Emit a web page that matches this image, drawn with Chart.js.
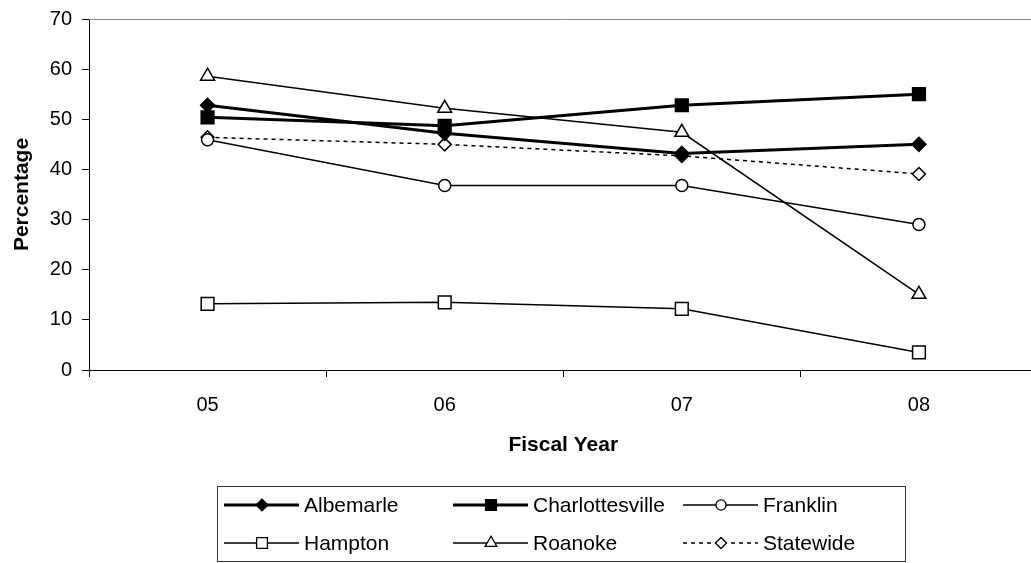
<!DOCTYPE html>
<html>
<head>
<meta charset="utf-8">
<script src="https://cdn.jsdelivr.net/npm/chart.js@4.4.1/dist/chart.umd.min.js"></script>
<style>
  html, body { margin: 0; padding: 0; background: #fff; overflow: hidden; }
  #wrap { width: 1048px; height: 563px; }
</style>
</head>
<body>
<div id="wrap"><canvas id="chart" width="1048" height="563"></canvas></div>
<script>
/**
 * Data
 */
const fiscalYears = ['05', '06', '07', '08'];
const albemarle = [52.8, 47.2, 43.2, 45.0];
const charlottesville = [50.4, 48.7, 52.8, 55.0];
const franklin = [45.9, 36.8, 36.8, 29.0];
const hampton = [13.2, 13.5, 12.2, 3.5];
const roanoke = [58.6, 52.2, 47.4, 15.1];
const statewide = [46.4, 45.0, 42.7, 39.1];
const yTicks = [0, 10, 20, 30, 40, 50, 60, 70];

const FONT = "'Liberation Sans', Arial, sans-serif";

/**
 * Methods
 */
const series = (label, data, opts) => Object.assign({
  label: label,
  data: data,
  borderColor: '#000',
  backgroundColor: '#fff',
  pointBorderColor: '#000',
  pointBorderWidth: 1.5,
  borderWidth: 1.5,
  tension: 0,
  fill: false
}, opts);

// top frame line of the plot area
const frameLine = {
  id: 'frameLine',
  afterDraw(chart) {
    const { ctx, chartArea } = chart;
    ctx.save();
    ctx.strokeStyle = '#888';
    ctx.lineWidth = 1;
    ctx.beginPath();
    ctx.moveTo(chartArea.left, chartArea.top + 0.5);
    ctx.lineTo(chartArea.right, chartArea.top + 0.5);
    ctx.stroke();
    ctx.restore();
  }
};

// boxed legend below the chart, 3 columns x 2 rows
const boxLegend = {
  id: 'boxLegend',
  afterDraw(chart) {
    const ctx = chart.ctx;
    const textX = [304, 533, 763];
    const rowY = [505, 543];
    ctx.save();
    ctx.strokeStyle = '#333';
    ctx.lineWidth = 1;
    ctx.strokeRect(217.5, 486.5, 688, 75);
    ctx.font = '21px ' + FONT;
    ctx.textBaseline = 'middle';
    ctx.fillStyle = '#000';
    chart.data.datasets.forEach((ds, i) => {
      const tx = textX[i % 3];
      const y = rowY[Math.floor(i / 3)];
      ctx.save();
      ctx.strokeStyle = '#000';
      ctx.lineWidth = ds.borderWidth;
      ctx.setLineDash(ds.borderDash || []);
      ctx.beginPath();
      ctx.moveTo(tx - 80, y);
      ctx.lineTo(tx - 5, y);
      ctx.stroke();
      ctx.setLineDash([]);
      ctx.fillStyle = ds.backgroundColor;
      ctx.strokeStyle = '#000';
      ctx.lineWidth = 1.3;
      Chart.helpers.drawPoint(ctx, {
        pointStyle: ds.pointStyle,
        radius: ds.pointRadius * 0.85,
        rotation: 0,
        borderWidth: 1.3
      }, tx - 42, y);
      ctx.restore();
      ctx.fillText(ds.label, tx, y + 1);
    });
    ctx.restore();
  }
};

const createGraphic = () => {
  const ctx = document.getElementById('chart').getContext('2d');

  new Chart(ctx, {
    type: 'line',
    data: {
      labels: fiscalYears,
      datasets: [
        series('Albemarle', albemarle, { borderWidth: 3, backgroundColor: '#000', pointStyle: 'rectRot', pointRadius: 7 }),
        series('Charlottesville', charlottesville, { borderWidth: 3, backgroundColor: '#000', pointStyle: 'rect', pointRadius: 9 }),
        series('Franklin', franklin, { pointStyle: 'circle', pointRadius: 6 }),
        series('Hampton', hampton, { pointStyle: 'rect', pointRadius: 9 }),
        series('Roanoke', roanoke, { pointStyle: 'triangle', pointRadius: 8 }),
        series('Statewide', statewide, { borderDash: [4, 4], pointStyle: 'rectRot', pointRadius: 6.5 })
      ]
    },
    options: {
      responsive: false,
      animation: false,
      devicePixelRatio: 1,
      layout: { padding: { top: 19, right: 3, bottom: 93, left: 0 } },
      plugins: {
        legend: { display: false },
        tooltip: { enabled: false }
      },
      scales: {
        x: {
          offset: true,
          grid: { offset: true, drawOnChartArea: false, drawTicks: true, tickLength: 7, color: '#000' },
          border: { color: '#000', width: 1 },
          ticks: { color: '#000', font: { family: FONT, size: 20 }, padding: 16 },
          title: { display: true, text: 'Fiscal Year', color: '#000', font: { family: FONT, size: 21, weight: 'bold' }, padding: { top: 0, bottom: 12 } },
          afterFit: (scale) => { scale.height = 100; }
        },
        y: {
          min: 0,
          max: 70,
          afterBuildTicks: (scale) => { scale.ticks = yTicks.map(v => ({ value: v })); },
          grid: { drawOnChartArea: false, drawTicks: true, tickLength: 7, color: '#000' },
          border: { color: '#000', width: 1 },
          ticks: { color: '#000', font: { family: FONT, size: 20, lineHeight: 0.9 }, padding: 10 },
          title: { display: true, text: 'Percentage', color: '#000', font: { family: FONT, size: 21, weight: 'bold' }, padding: { top: 10, bottom: 0 } },
          afterFit: (scale) => { scale.width = 89; }
        }
      }
    },
    plugins: [frameLine, boxLegend]
  });
};

/**
 * Events
 */
document.addEventListener('DOMContentLoaded', () => {
  createGraphic();
});
</script>
</body>
</html>
